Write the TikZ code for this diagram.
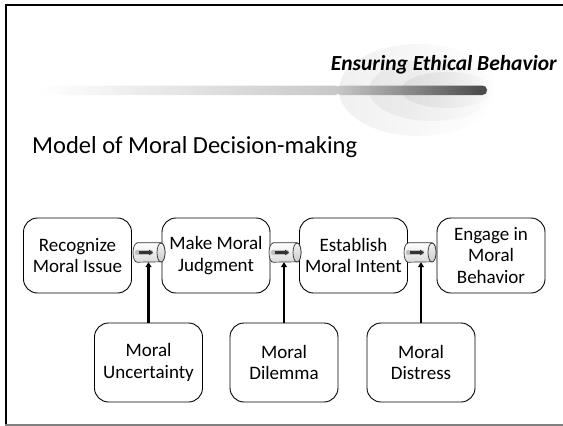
\documentclass[tikz,border=0pt]{standalone}
\usepackage{fontspec}
\setmainfont{Carlito}
\usetikzlibrary{arrows.meta,fadings}
\tikzset{>={Triangle[length=5,width=6]}}
\tikzstyle{stage}=[draw=black,line width=0.9,rounded corners=14,align=center,
                   minimum width=108,minimum height=75,inner sep=2,
                   font=\fontsize{19}{21.7}\selectfont]
\tikzstyle{factor}=[stage,minimum height=79]
\tikzstyle{hub}=[minimum width=32,minimum height=19,inner sep=0]
\tikzstyle{can}=[draw=black!80,line width=0.7,top color=white,bottom color=black!14]
\tikzstyle{push}=[->,line width=2.6]

\begin{document}
\begin{tikzpicture}[x=1pt,y=-1pt]
  \useasboundingbox (0,0) rectangle (563,426);
  \def\rx{4}   % half depth of a can end
  \def\ry{9.5} % half height of a can

  % FRAME
  \draw[line width=2] (5,5) -- (563,5);
  \draw[line width=2.5] (6,5) -- (6,425);
  \draw[gray,line width=1.5] (5,425) -- (563,425);

  % SWOOSH BEHIND THE HEADING
  \fill[black!6,path fading=east] (418,90) ellipse[x radius=79,y radius=46];
  \fill[black!9,path fading=east] (432,90) ellipse[x radius=63,y radius=31];
  \fill[black!13,path fading=east] (447,90) ellipse[x radius=46,y radius=18];
  \shade[left color=white,right color=black!22,rounded corners=4.5]
    (40,85.5) rectangle (340,95);
  \shade[left color=black!22,right color=black!72,rounded corners=4.5]
    (336,85.5) rectangle (487,95);

  % HEADINGS
  \node[anchor=base east,inner sep=0,
        font=\fontsize{21.5}{25}\selectfont\bfseries\itshape]
    (head) at (557,70) {Ensuring Ethical Behavior};
  \node[anchor=base west,inner sep=0,font=\fontsize{24.5}{29}\selectfont]
    (model) at (32,153) {Model of Moral Decision-making};

  % STAGES
  \node[stage] (recognize) at (77.5,255.5) {Recognize\\Moral Issue};
  \node[stage] (judge) at (216,255.5) {Make Moral\\Judgment};
  \node[stage] (intent) at (353.5,255.5) {Establish\\Moral Intent};
  \node[stage] (behave) at (491,255.5) {Engage in\\Moral\\Behavior};

  % LINKS (little cans between the stages)
  \foreach \x [count=\i] in {149,285,420}{
    \node[hub] (c\i) at (\x,252.5) {};
    \draw[can] ([xshift=-12]c\i.north) -- ([xshift=12]c\i.north)
      arc[start angle=270,end angle=450,x radius=\rx,y radius=\ry]
      -- ([xshift=-12]c\i.south)
      arc[start angle=90,end angle=270,x radius=\rx,y radius=\ry] -- cycle;
    \draw[can,top color=black!5,bottom color=black!20]
      ([xshift=12]c\i.center) ellipse[x radius=\rx,y radius=\ry];
    \draw[line width=4.5,black!25,line cap=round]
      ([xshift=-12]c\i.center) -- ([xshift=2]c\i.center);
    \draw[line width=2.6,black!80,-{Triangle[length=4,width=5.5]}]
      ([xshift=-10]c\i.center) -- ([xshift=4]c\i.center);
  }

  % FACTORS
  \node[factor] (uncertain) at (148.5,362.5) {Moral\\Uncertainty};
  \node[factor] (dilemma) at (284,362.5) {Moral\\Dilemma};
  \node[factor] (distress) at (421,362.5) {Moral\\Distress};

  \draw[push] (uncertain.north) -- (uncertain.north |- c1.south);
  \draw[push] (dilemma.north) -- (dilemma.north |- c2.south);
  \draw[push] (distress.north) -- (distress.north |- c3.south);

\end{tikzpicture}
\end{document}
